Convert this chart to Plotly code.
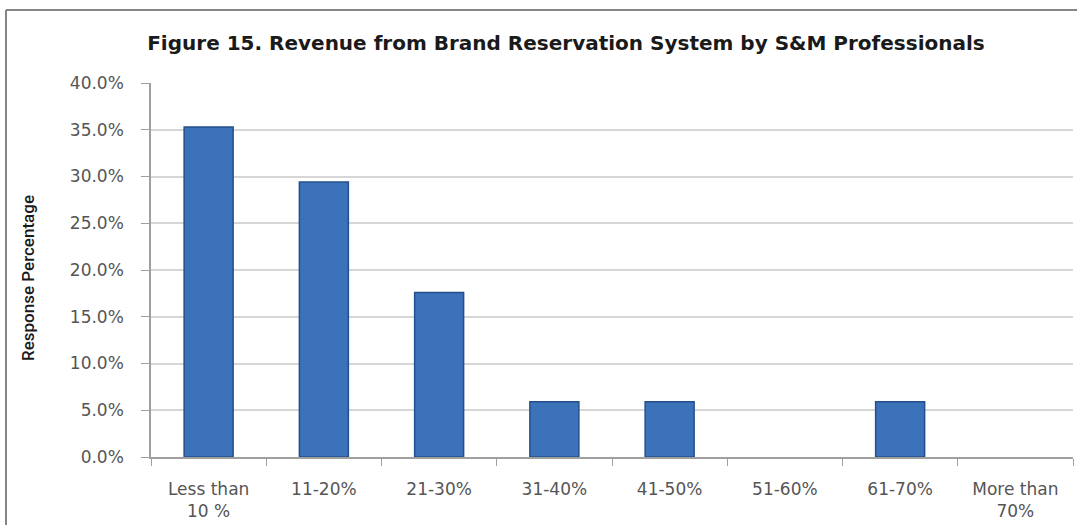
import plotly.graph_objects as go

# Share of responses per revenue band
categories = ["Less than<br>10 %", "11-20%", "21-30%", "31-40%", "41-50%",
              "51-60%", "61-70%", "More than<br>70%"]
response_share = [0.353, 0.294, 0.176, 0.059, 0.059, 0.0, 0.059, 0.0]

W, H = 1077, 525
L, R, T, B = 151, 4, 83, 68
pw = W - L - R
ph = H - T - B

# No outline on empty bands, so zero bars stay invisible
outline_w = [1.5 if v > 0 else 0 for v in response_share]

fig = go.Figure()
fig.add_trace(go.Bar(
    x=categories,
    y=response_share,
    width=0.425,
    marker=dict(color="#3C72B9", line=dict(color="#23508C", width=outline_w)),
    hoverinfo="x+y",
))

tick_font = dict(family="DejaVu Sans", size=17, color="#555555")

fig.update_layout(
    width=W, height=H,
    margin=dict(l=L, r=R, t=T, b=B),
    paper_bgcolor="white",
    plot_bgcolor="white",
    showlegend=False,
    title=dict(
        text="<b>Figure 15. Revenue from Brand Reservation System by S&M Professionals</b>",
        font=dict(family="DejaVu Sans", size=20, color="#1a1a1a"),
        x=566 / W, xanchor="center",
        y=1 - 43 / H, yanchor="middle",
    ),
    xaxis=dict(
        type="category",
        showline=True, linecolor="#a0a0a0", linewidth=1.5,
        ticks="outside", tickson="boundaries", ticklen=7, tickcolor="#a0a0a0",
        tickfont=tick_font,
        ticklabelstandoff=16,
        showgrid=False,
    ),
    yaxis=dict(
        range=[0, 0.4], dtick=0.05, tickformat=".1%",
        showline=True, linecolor="#a0a0a0", linewidth=1.5,
        ticks="outside", ticklen=8, tickcolor="#a0a0a0",
        gridcolor="#d6d6d6", gridwidth=1.5,
        tickfont=tick_font,
        ticklabelstandoff=14,
        zeroline=False,
    ),
)

# Vertical axis caption
fig.add_annotation(
    text="Response Percentage", textangle=-90,
    xref="paper", yref="paper",
    x=(28 - L) / pw, y=(H - B - 278) / ph,
    xanchor="center", yanchor="middle", showarrow=False,
    font=dict(family="Roboto", size=17, weight=500, color="#1a1a1a"),
)

# Outer chart frame (left and top edges)
fig.add_shape(type="line", xref="paper", yref="paper",
              x0=(6 - L) / pw, x1=(W + 20 - L) / pw,
              y0=1 + (T - 10) / ph, y1=1 + (T - 10) / ph,
              line=dict(color="#858585", width=2))
fig.add_shape(type="line", xref="paper", yref="paper",
              x0=(6 - L) / pw, x1=(6 - L) / pw,
              y0=1 + (T - 10) / ph, y1=-(B + 20) / ph,
              line=dict(color="#858585", width=2))

fig.write_html("out.html")
